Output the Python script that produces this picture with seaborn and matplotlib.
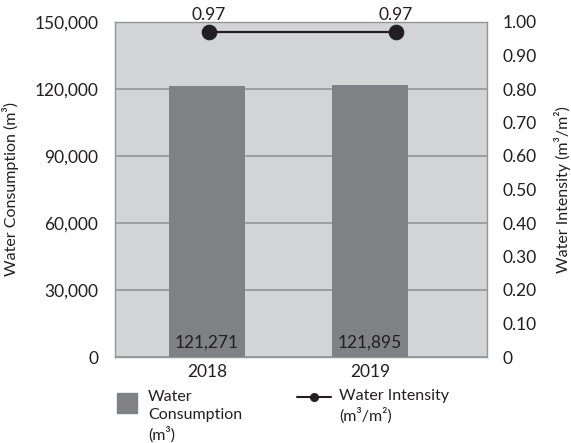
import numpy as np
import matplotlib
matplotlib.use("Agg")
import matplotlib.pyplot as plt
from matplotlib.patches import Rectangle
from matplotlib.lines import Line2D
from matplotlib.ticker import FuncFormatter
import seaborn as sns

years = ["2018", "2019"]
consumption = [121271, 121895]
intensity = [0.97, 0.97]
left_ticks = [0, 30000, 60000, 90000, 120000, 150000]
right_ticks = [0, 0.1, 0.2, 0.3, 0.4, 0.5, 0.6, 0.7, 0.8, 0.9, 1.0]

bar_color = "#808184"
bg_color = "#d3d4d6"
grid_color = "#939598"
text_color = "#231f20"

sns.set_theme(style="white")
plt.rcParams["font.family"] = ["Lato", "DejaVu Sans"]

fig = plt.figure(figsize=(5.71, 4.43), dpi=100)
pos = [115 / 571, 86 / 443, 372 / 571, 335 / 443]
ax = fig.add_axes(pos)
ax.set_facecolor(bg_color)

sns.barplot(x=years, y=consumption, color=bar_color, saturation=1, width=0.47,
            linewidth=0, ax=ax, zorder=3)
ax.set_xlim(-0.564, 1.717)
ax.set_ylim(0, 150000)
ax.set_yticks(left_ticks)
ax.yaxis.set_major_formatter(FuncFormatter(lambda v, p: "0" if v == 0 else f"{v:,.0f}"))
ax.grid(axis="y", color=grid_color, linewidth=1.2, zorder=1)
ax.set_axisbelow(True)
for s in ax.spines.values():
    s.set_color(grid_color)
    s.set_linewidth(1)
ax.tick_params(axis="both", length=0, labelsize=12.5, colors=text_color)
ax.tick_params(axis="y", pad=12)
ax.tick_params(axis="x", pad=5)
ax.set_xlabel("")
ax.set_ylabel("Water Consumption (m³)", fontsize=11.5, color=text_color)
ax.yaxis.set_label_coords(-0.258, 0.5)

for i, v in enumerate(consumption):
    ax.text(i, 6500, f"{v:,}", ha="center", va="center", fontsize=12.5, color=text_color, zorder=4)

# line sits on its own overlay axes (offset x scale like the original)
ax2 = fig.add_axes(pos, facecolor="none")
idx = np.arange(len(years))
sns.lineplot(x=idx, y=intensity, ax=ax2, color=text_color, linewidth=1.6,
             marker="o", markersize=10.5, markeredgecolor=text_color, clip_on=False)
ax2.set_xlim(-0.503, 1.487)
ax2.set_ylim(0, 1.0)
ax2.set_yticks(right_ticks)
ax2.yaxis.set_major_formatter(FuncFormatter(lambda v, p: "0" if v == 0 else f"{v:.2f}"))
ax2.yaxis.tick_right()
ax2.yaxis.set_label_position("right")
ax2.set_xticks([])
for s in ax2.spines.values():
    s.set_visible(False)
ax2.tick_params(axis="y", length=0, labelsize=12.5, colors=text_color, pad=11.5)
ax2.set_ylabel("Water Intensity (m³/m²)", fontsize=11.5, color=text_color)
ax2.yaxis.set_label_coords(1.18, 0.5)
for i, v in zip(idx, intensity):
    ax2.annotate(f"{v:.2f}", (i, v), xytext=(0, 9), textcoords="offset points",
                 ha="center", va="baseline", fontsize=12.5, color=text_color)

# legend below the chart
fig.patches.append(Rectangle((117 / 571, 1 - 413 / 443), 20 / 571, 20 / 443,
                             transform=fig.transFigure, color=bar_color))
fig.text(148 / 571, 1 - 390 / 443, "Water\nConsumption\n(m³)", ha="left", va="top",
         fontsize=11.5, color=text_color, linespacing=1.35)
fig.lines.append(Line2D([297 / 571, 331 / 571], [1 - 397 / 443] * 2, transform=fig.transFigure,
                        color=text_color, linewidth=1.5))
fig.lines.append(Line2D([314 / 571], [1 - 397 / 443], transform=fig.transFigure,
                        color=text_color, marker="o", markersize=5.5, linestyle="none"))
fig.text(339 / 571, 1 - 389 / 443, "Water Intensity\n(m³/m²)", ha="left", va="top",
         fontsize=11.5, color=text_color, linespacing=1.35)

fig.savefig("out.png", dpi=100)
